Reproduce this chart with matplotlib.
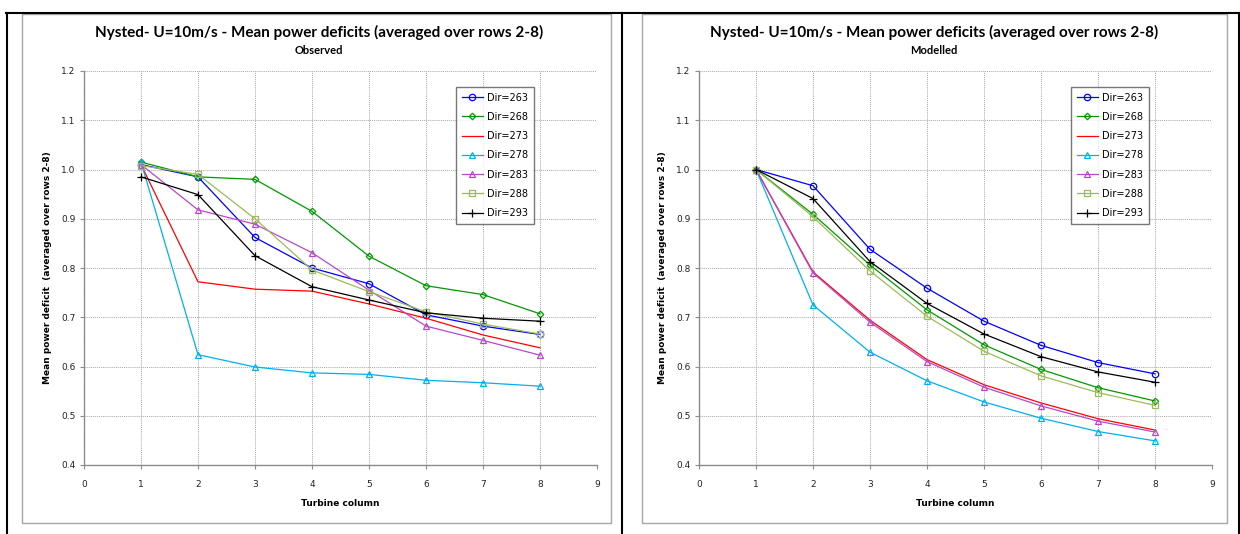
import matplotlib
matplotlib.use('Agg')
import matplotlib.pyplot as plt
from matplotlib.lines import Line2D
from matplotlib.patches import Rectangle
from matplotlib.ticker import FormatStrFormatter

columns = [1, 2, 3, 4, 5, 6, 7, 8]
labels = ['Dir=263', 'Dir=268', 'Dir=273', 'Dir=278', 'Dir=283', 'Dir=288', 'Dir=293']

# observed (left chart)
obs_263 = [1.010, 0.985, 0.862, 0.800, 0.768, 0.705, 0.682, 0.665]
obs_268 = [1.015, 0.985, 0.980, 0.915, 0.824, 0.764, 0.746, 0.707]
obs_273 = [1.010, 0.772, 0.757, 0.753, 0.727, 0.698, 0.664, 0.638]
obs_278 = [1.015, 0.624, 0.599, 0.587, 0.584, 0.572, 0.567, 0.560]
obs_283 = [1.010, 0.918, 0.889, 0.831, 0.755, 0.682, 0.653, 0.623]
obs_288 = [1.008, 0.990, 0.900, 0.796, 0.752, 0.711, 0.686, 0.666]
obs_293 = [0.985, 0.949, 0.825, 0.762, 0.735, 0.709, 0.698, 0.692]

# modelled (right chart)
mod_263 = [1.0, 0.967, 0.838, 0.759, 0.692, 0.643, 0.608, 0.585]
mod_268 = [1.0, 0.909, 0.806, 0.715, 0.644, 0.594, 0.557, 0.530]
mod_273 = [1.0, 0.792, 0.694, 0.614, 0.563, 0.526, 0.494, 0.471]
mod_278 = [1.0, 0.725, 0.629, 0.571, 0.528, 0.495, 0.468, 0.449]
mod_283 = [1.0, 0.790, 0.690, 0.610, 0.558, 0.520, 0.489, 0.467]
mod_288 = [1.0, 0.904, 0.794, 0.702, 0.631, 0.581, 0.547, 0.521]
mod_293 = [1.0, 0.941, 0.813, 0.728, 0.666, 0.620, 0.589, 0.568]

colors = ['#0000FF', '#009900', '#FF0000', '#00B0F0', '#B848C8', '#9BBB59', '#000000']
markers = ['o', 'D', None, '^', '^', 's', '+']
msizes = [4.6, 3.3, 0, 4.6, 4.6, 4.6, 5.5]

W, H = 1240, 534


def px_x(x):
    return x / W


def px_y(y):
    return 1 - y / H


def draw_chart(fig, x0, subtitle, series):
    # x0: pixel position of the y axis
    ax = fig.add_axes([px_x(x0), px_y(465), 513 / W, 394 / H])
    for index, values in enumerate(series):
        ax.plot(columns, values, color=colors[index], marker=markers[index],
                markersize=msizes[index], markerfacecolor='none',
                markeredgewidth=0.9, linewidth=0.9, label=labels[index])

    ax.set_xlim(0, 9)
    ax.set_ylim(0.4, 1.2)
    ax.set_xticks(range(0, 10))
    ax.set_yticks([0.4, 0.5, 0.6, 0.7, 0.8, 0.9, 1.0, 1.1, 1.2])
    ax.yaxis.set_major_formatter(FormatStrFormatter('%.1f'))
    ax.grid(True, color='#ababab', linestyle=(0, (1, 1)), linewidth=0.75)
    ax.set_axisbelow(True)
    for side in ['top', 'right']:
        ax.spines[side].set_visible(False)
    for side in ['left', 'bottom']:
        ax.spines[side].set_color('#8c8c8c')
        ax.spines[side].set_linewidth(1)
    ax.tick_params(axis='both', direction='out', length=3, color='#8c8c8c',
                   labelsize=6.5, labelcolor='#222222')
    ax.tick_params(axis='x', pad=8)
    ax.tick_params(axis='y', pad=3)

    ax.set_xlabel('Turbine column', fontsize=6.5, fontweight='bold', labelpad=7)
    ax.set_ylabel('Mean power deficit  (averaged over rows 2-8)', fontsize=6.5,
                  fontweight='bold', labelpad=7)

    leg = ax.legend(loc='upper left', bbox_to_anchor=(0.725, 0.96), fontsize=7,
                    frameon=True, fancybox=False, labelspacing=0.95,
                    handlelength=2.2, handletextpad=0.4, borderpad=0.6,
                    borderaxespad=0)
    leg.get_frame().set_edgecolor('#555555')
    leg.get_frame().set_linewidth(1)

    cx = px_x(x0 + 235)
    fig.text(cx, px_y(32), 'Nysted- U=10m/s - Mean power deficits (averaged over rows 2-8)',
             ha='center', va='center', fontsize=11, fontweight='bold', family='Lato')
    fig.text(cx, px_y(50), subtitle, ha='center', va='center', fontsize=8,
             fontweight='bold', family='Lato')


fig = plt.figure(figsize=(W / 100, H / 100), dpi=100)

# grey chart borders
for left, right in [(22, 611), (642, 1227)]:
    fig.add_artist(Rectangle((px_x(left), px_y(523)), (right - left) / W, 509 / H,
                             transform=fig.transFigure, fill=False,
                             edgecolor='#a6a6a6', linewidth=1))

# black outer frame
black = dict(transform=fig.transFigure, color='black', linewidth=1.5)
fig.add_artist(Line2D([px_x(6), 1], [px_y(12.5), px_y(12.5)], **black))
fig.add_artist(Line2D([px_x(7), px_x(7)], [0, px_y(12.5)], **black))
fig.add_artist(Line2D([px_x(622), px_x(622)], [0, px_y(12.5)], **black))
fig.add_artist(Line2D([px_x(1239), px_x(1239)], [0, px_y(12.5)], **black))

draw_chart(fig, 84, 'Observed',
           [obs_263, obs_268, obs_273, obs_278, obs_283, obs_288, obs_293])
draw_chart(fig, 699, 'Modelled',
           [mod_263, mod_268, mod_273, mod_278, mod_283, mod_288, mod_293])

fig.savefig('out.png', dpi=100)
